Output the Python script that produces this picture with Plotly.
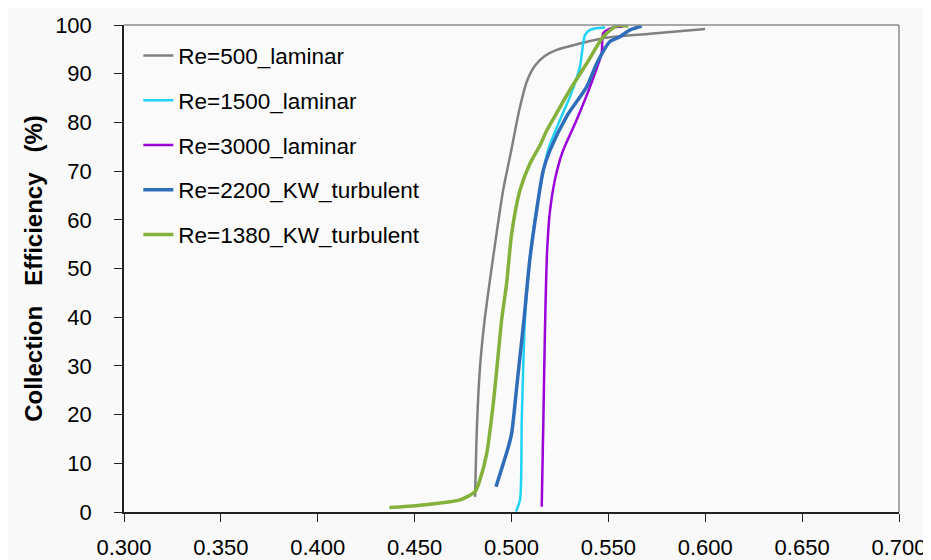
import plotly.graph_objects as go

# ---- data ----
re500_x = [0.4812, 0.4822, 0.4838, 0.4860, 0.4890, 0.4923, 0.4957, 0.4995, 0.5040, 0.5080, 0.5120, 0.5170, 0.5233, 0.5353, 0.5472, 0.5715, 0.5999]
re500_y = [3.1, 18.0, 30.0, 39.0, 48.0, 57.2, 66.1, 73.5, 82.5, 88.5, 91.6, 93.6, 94.9, 96.2, 97.3, 98.2, 99.2]

re1500_x = [0.5023, 0.5044, 0.5053, 0.5069, 0.5090, 0.5120, 0.5150, 0.5190, 0.5250, 0.5302, 0.5353, 0.5379, 0.5405, 0.5431, 0.5483]
re1500_y = [0.1, 2.5, 18.9, 39.4, 50.0, 60.0, 67.0, 74.5, 80.5, 85.3, 91.4, 97.9, 99.0, 99.3, 99.5]

re3000_x = [0.5156, 0.5165, 0.5173, 0.5184, 0.5199, 0.5224, 0.5250, 0.5267, 0.5336, 0.5405, 0.5465, 0.5474, 0.5525, 0.5575]
re3000_y = [1.1, 20.0, 38.0, 53.8, 62.0, 68.2, 72.3, 74.3, 80.5, 87.3, 94.2, 98.3, 99.5, 99.7]

re2200_x = [0.4920, 0.4984, 0.5001, 0.5027, 0.5053, 0.5064, 0.5095, 0.5130, 0.5164, 0.5199, 0.5284, 0.5388, 0.5440, 0.5508, 0.5560, 0.5612, 0.5672]
re2200_y = [5.2, 13.4, 16.2, 25.7, 35.3, 39.4, 52.0, 62.0, 70.2, 74.3, 81.2, 87.3, 92.1, 96.6, 97.6, 99.0, 99.8]

re1380_x = [0.4370, 0.4528, 0.4734, 0.4812, 0.4837, 0.4872, 0.4906, 0.4932, 0.4949, 0.4975, 0.5001, 0.5044, 0.5096, 0.5150, 0.5180, 0.5233, 0.5302, 0.5388, 0.5474, 0.5542, 0.5603]
re1380_y = [0.9, 1.4, 2.5, 4.2, 6.6, 12.0, 22.3, 32.6, 39.4, 47.0, 57.2, 66.1, 71.6, 75.5, 78.2, 81.9, 86.7, 92.1, 97.6, 99.8, 99.8]

series_names = ["Re=500_laminar", "Re=1500_laminar", "Re=3000_laminar", "Re=2200_KW_turbulent", "Re=1380_KW_turbulent"]
series_x = [re500_x, re1500_x, re3000_x, re2200_x, re1380_x]
series_y = [re500_y, re1500_y, re3000_y, re2200_y, re1380_y]
colors = ["#808080", "#1ed2f4", "#9b00d9", "#2f6cba", "#84b03c"]
widths = [2.5, 2.5, 2.5, 3.5, 3.5]

x_ticks = [0.30, 0.35, 0.40, 0.45, 0.50, 0.55, 0.60, 0.65, 0.70]
y_ticks = [0, 10, 20, 30, 40, 50, 60, 70, 80, 90, 100]

fig = go.Figure()
for i in range(len(series_names)):
    fig.add_trace(go.Scatter(
        x=series_x[i], y=series_y[i], name=series_names[i], mode="lines",
        line=dict(color=colors[i], width=widths[i], shape="spline", smoothing=0.7),
        legendgroup=str(i),
    ))

font_family = "Liberation Sans, Arial, sans-serif"
fig.update_layout(
    width=931, height=560,
    margin=dict(l=116, r=40, t=17, b=56),
    paper_bgcolor="#f9f9f9",
    plot_bgcolor="#fafafa",
    font=dict(family=font_family, color="#000000"),
    showlegend=True,
    legend=dict(
        x=0.0185, y=0.981, xanchor="left", yanchor="top",
        bgcolor="rgba(0,0,0,0)", borderwidth=0,
        font=dict(size=22.5, family=font_family, color="#000000"),
        tracegroupgap=12.5,
    ),
    xaxis=dict(
        range=[0.3, 0.7], tickvals=x_ticks, tickformat=".3f",
        showgrid=False, zeroline=False, automargin=False,
        showline=True, linecolor="#222222", linewidth=1.5,
        ticks="outside", ticklen=8, tickcolor="#222222",
        tickfont=dict(size=22), ticklabelstandoff=7,
    ),
    yaxis=dict(
        range=[0, 100], tickvals=y_ticks,
        showgrid=False, zeroline=False, automargin=False,
        showline=True, linecolor="#222222", linewidth=1.5,
        ticks="outside", ticklen=8, tickcolor="#222222",
        tickfont=dict(size=22), ticklabelstandoff=18,
        title=dict(text="<b>Collection\u00a0\u00a0\u00a0Efficiency\u00a0\u00a0\u00a0(%)</b>",
                   font=dict(size=24), standoff=6),
    ),
    shapes=[
        dict(type="line", xref="paper", yref="paper", x0=0, x1=1, y0=1, y1=1,
             line=dict(color="#8c8c8c", width=1.5)),
        dict(type="line", xref="paper", yref="paper", x0=1, x1=1, y0=0, y1=1,
             line=dict(color="#8c8c8c", width=1.5)),
    ],
)

fig.write_html("out.html")
